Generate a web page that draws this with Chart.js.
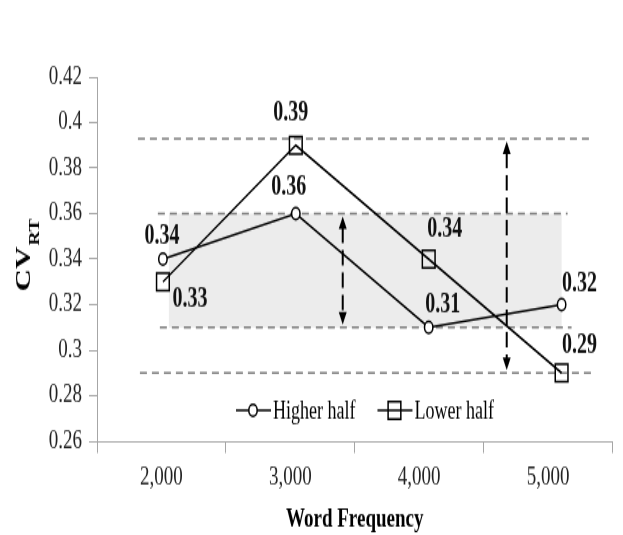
<!DOCTYPE html>
<html>
<head>
<meta charset="utf-8">
<script src="https://cdn.jsdelivr.net/npm/chart.js@4.4.1/dist/chart.umd.min.js"></script>
<style>
  html, body { margin: 0; padding: 0; background: #fff; }
  canvas { display: block; }
</style>
</head>
<body>
<!-- the source figure is stretched vertically, so the canvas is drawn shorter and shown at full height -->
<canvas id="chart" width="623" height="382" style="width:623px;height:535px"></canvas>
<script>
const frequencies = [2000, 3000, 4000, 5000];
const categories = ['2,000', '3,000', '4,000', '5,000'];
const higherHalf = [0.34, 0.36, 0.31, 0.32];
const lowerHalf = [0.33, 0.39, 0.34, 0.29];

const yMin = 0.26, yMax = 0.42, yStep = 0.02;

// shaded range, dashed reference lines and the two range arrows (data units)
const band = { from: 2045, to: 5000, low: 0.31, high: 0.36 };
const refLines = [
  { y: 0.393, from: 1812, to: 5233 },
  { y: 0.36, from: 1962, to: 5045 },
  { y: 0.31, from: 1977, to: 5075 },
  { y: 0.29, from: 1827, to: 5248 }
];
const rangeArrows = [
  { x: 3353, top: 0.36, bottom: 0.31 },
  { x: 4587, top: 0.393, bottom: 0.29 }
];

const serif = "'Liberation Serif', 'Times New Roman', serif";

// label offsets from each point, px
const labelOffsets = [
  [[-1, -16], [-7, -19], [14, -16], [18, -15]],
  [[27, 13], [-5, -23], [16, -21], [18, -19]]
];

function arrowHead(ctx, x, y, dir) {
  ctx.beginPath();
  ctx.moveTo(x, y);
  ctx.lineTo(x - 4, y - dir * 9);
  ctx.lineTo(x + 4, y - dir * 9);
  ctx.closePath();
  ctx.fill();
}

const backdrop = {
  id: 'backdrop',
  beforeDatasetsDraw(chart) {
    const ctx = chart.ctx;
    const xs = chart.scales.x2, ys = chart.scales.y;
    ctx.save();
    ctx.fillStyle = '#ececec';
    const bx0 = xs.getPixelForValue(band.from), bx1 = xs.getPixelForValue(band.to);
    const by0 = ys.getPixelForValue(band.high), by1 = ys.getPixelForValue(band.low);
    ctx.fillRect(bx0, by0, bx1 - bx0, by1 - by0);

    ctx.strokeStyle = '#7f7f7f';
    ctx.lineWidth = 1.5;
    ctx.setLineDash([7, 5]);
    refLines.forEach(l => {
      const y = ys.getPixelForValue(l.y);
      ctx.beginPath();
      ctx.moveTo(xs.getPixelForValue(l.from), y);
      ctx.lineTo(xs.getPixelForValue(l.to), y);
      ctx.stroke();
    });

    ctx.strokeStyle = '#000';
    ctx.fillStyle = '#000';
    ctx.lineWidth = 2;
    ctx.setLineDash([11, 5]);
    rangeArrows.forEach(a => {
      const x = xs.getPixelForValue(a.x);
      const y0 = ys.getPixelForValue(a.top) + 2;
      const y1 = ys.getPixelForValue(a.bottom) - 2;
      ctx.beginPath();
      ctx.moveTo(x, y0 + 8);
      ctx.lineTo(x, y1 - 8);
      ctx.stroke();
      arrowHead(ctx, x, y0, -1);
      arrowHead(ctx, x, y1, 1);
    });
    ctx.restore();
  }
};

const valueLabels = {
  id: 'valueLabels',
  afterDatasetsDraw(chart) {
    const ctx = chart.ctx;
    ctx.save();
    ctx.font = 'bold 20px ' + serif;
    ctx.fillStyle = '#111';
    ctx.textAlign = 'center';
    ctx.textBaseline = 'middle';
    chart.data.datasets.forEach((ds, i) => {
      chart.getDatasetMeta(i).data.forEach((pt, j) => {
        const [dx, dy] = labelOffsets[i][j];
        ctx.fillText(ds.data[j].y.toFixed(2), pt.x + dx, pt.y + dy);
      });
    });
    ctx.restore();
  }
};

// legend inside the plot: line with marker through it, then the label
const lineLegend = {
  id: 'lineLegend',
  afterDatasetsDraw(chart) {
    const ctx = chart.ctx;
    const y = 293;
    let x = 236;
    ctx.save();
    ctx.font = '18px ' + serif;
    ctx.textBaseline = 'middle';
    ctx.textAlign = 'left';
    chart.data.datasets.forEach(ds => {
      ctx.strokeStyle = '#000';
      ctx.lineWidth = 1.5;
      ctx.beginPath();
      ctx.moveTo(x, y);
      ctx.lineTo(x + 35, y);
      ctx.stroke();
      ctx.fillStyle = ds.pointBackgroundColor;
      Chart.helpers.drawPoint(ctx, {
        pointStyle: ds.pointStyle, radius: ds.pointRadius, borderWidth: 1.5
      }, x + 17, y);
      ctx.fillStyle = '#000';
      ctx.fillText(ds.label, x + 37, y + 1);
      x += 37 + ctx.measureText(ds.label).width + 22;
    });
    ctx.restore();
  }
};

const yTitle = {
  id: 'yTitle',
  afterDraw(chart) {
    const ctx = chart.ctx;
    ctx.save();
    ctx.translate(30, 208);
    ctx.rotate(-Math.PI / 2);
    ctx.fillStyle = '#000';
    ctx.textAlign = 'left';
    ctx.textBaseline = 'alphabetic';
    ctx.font = 'bold 22px ' + serif;
    ctx.fillText('CV', 0, 0);
    const w = ctx.measureText('CV').width;
    ctx.font = 'bold 14px ' + serif;
    ctx.fillText('RT', w + 1, 9);
    ctx.restore();
  }
};

const toPoints = vals => vals.map((v, i) => ({ x: frequencies[i], y: v }));

new Chart(document.getElementById('chart'), {
  type: 'line',
  data: {
    labels: categories,
    datasets: [
      {
        label: 'Higher half',
        data: toPoints(higherHalf),
        xAxisID: 'x2',
        borderColor: '#000',
        borderWidth: 1.5,
        pointStyle: 'circle',
        pointRadius: 4.2,
        pointBorderWidth: 1.5,
        pointBorderColor: '#000',
        pointBackgroundColor: '#fff'
      },
      {
        label: 'Lower half',
        data: toPoints(lowerHalf),
        xAxisID: 'x2',
        borderColor: '#000',
        borderWidth: 1.5,
        pointStyle: 'rect',
        pointRadius: 9,
        pointBorderWidth: 1.5,
        pointBorderColor: '#000',
        pointBackgroundColor: 'rgba(0,0,0,0)'
      }
    ]
  },
  options: {
    responsive: false,
    animation: false,
    devicePixelRatio: 1,
    layout: { padding: { top: 55, right: 10, left: 0, bottom: 0 } },
    plugins: { legend: { display: false }, tooltip: { enabled: false } },
    scales: {
      x: {
        type: 'category',
        offset: true,
        grid: { offset: true, drawOnChartArea: false, tickLength: 8.5, color: '#a6a6a6' },
        border: { color: '#a6a6a6' },
        ticks: { font: { family: serif, size: 19 }, color: '#222', padding: 6 },
        title: {
          display: true,
          text: 'Word Frequency',
          font: { family: serif, size: 19, weight: 'bold' },
          color: '#000',
          padding: { top: 0, bottom: 0 }
        },
        afterFit: s => { s.height = 67; }
      },
      x2: { type: 'linear', display: false, min: 1504, max: 5383 },
      y: {
        min: yMin,
        max: yMax,
        ticks: {
          stepSize: yStep,
          callback: v => String(+v.toFixed(2)),
          font: { family: serif, size: 19 },
          color: '#222',
          padding: 7
        },
        grid: { drawOnChartArea: false, tickLength: 8, color: '#a6a6a6' },
        border: { color: '#a6a6a6' },
        afterFit: s => { s.width = 97; }
      }
    }
  },
  plugins: [backdrop, valueLabels, lineLegend, yTitle]
});
</script>
</body>
</html>
